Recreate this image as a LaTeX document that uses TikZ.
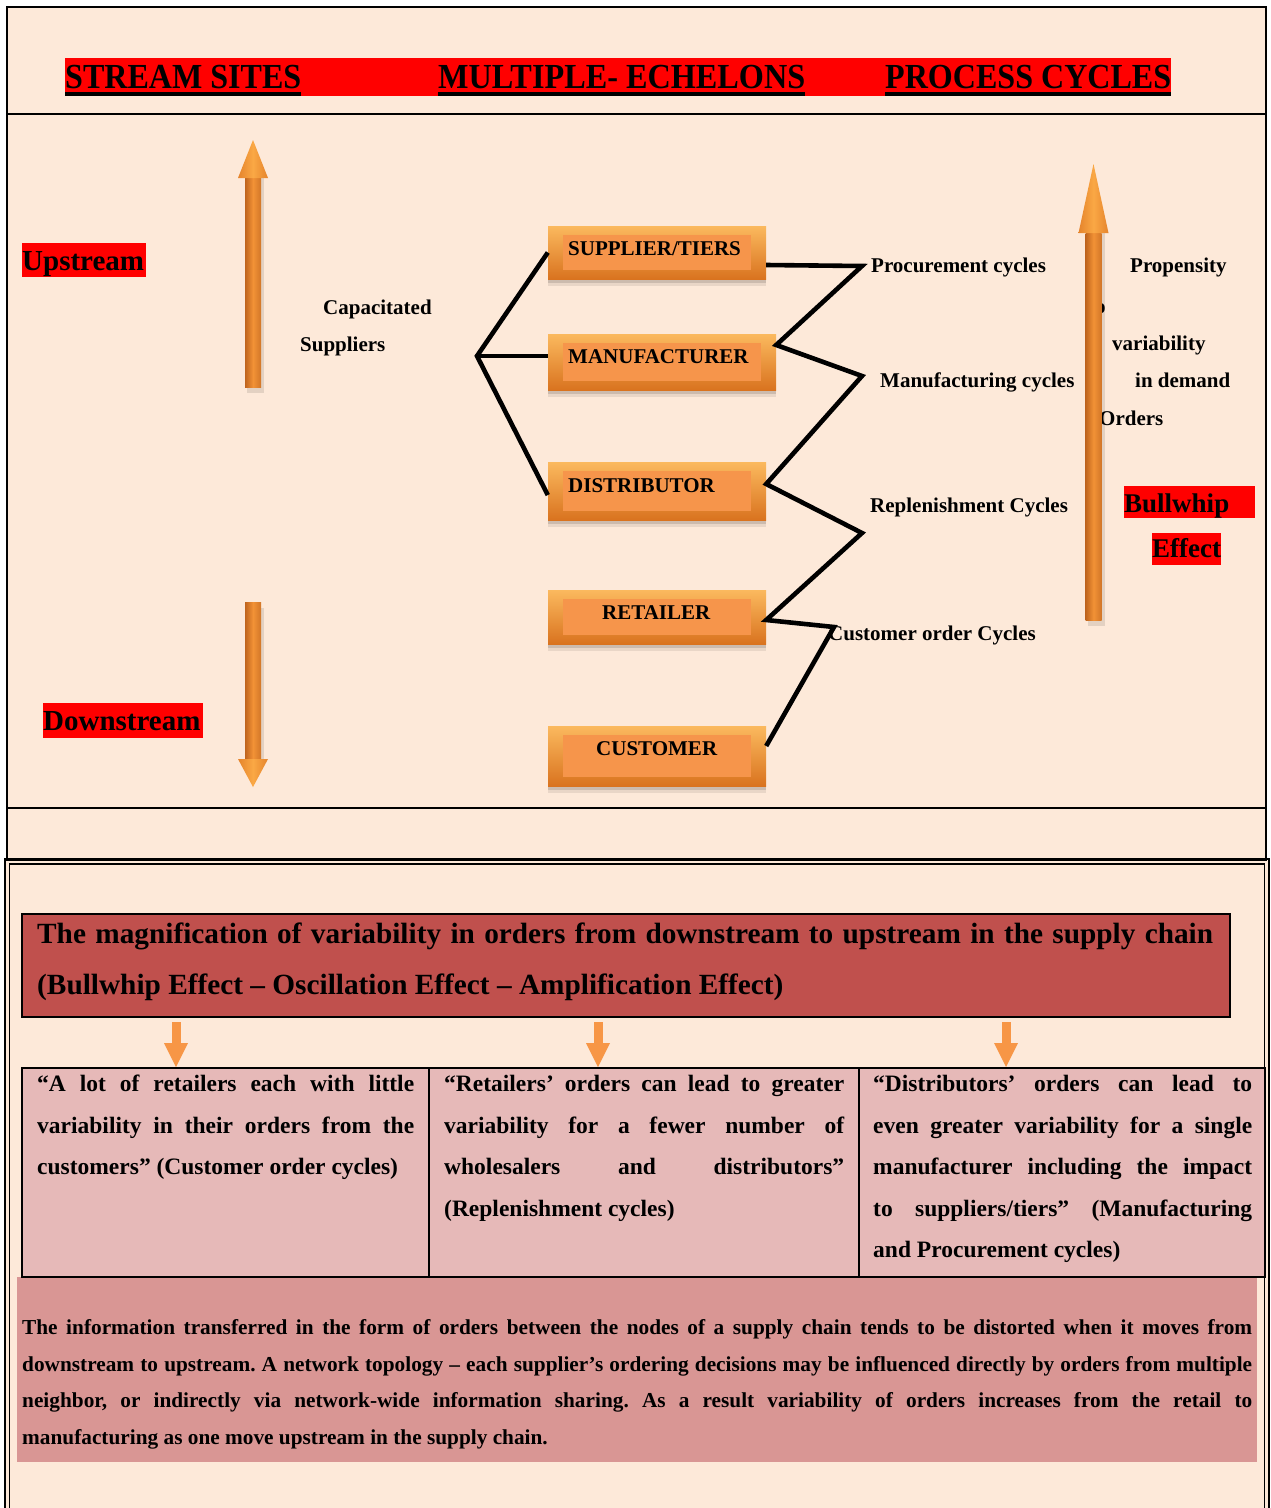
\documentclass[tikz,border=0pt]{standalone}
\usepackage{fontspec}
\setmainfont{Liberation Serif}
\usetikzlibrary{shadows}

\tolerance=10000
\hyphenpenalty=10000
\exhyphenpenalty=10000
\hbadness=10000
\frenchspacing

\definecolor{peach}{HTML}{FDE9D9}
\definecolor{hired}{HTML}{FF0000}
\definecolor{titlered}{HTML}{C0504D}
\definecolor{cellpink}{HTML}{E6B9B8}
\definecolor{parapink}{HTML}{D99694}
\definecolor{accentorange}{HTML}{F79646}
\definecolor{bevtop}{HTML}{FBB95E}
\definecolor{bevbot}{HTML}{D9731F}
\definecolor{bevface}{HTML}{F6954B}
\definecolor{shaftedge}{HTML}{BF641E}
\definecolor{shaftedgeb}{HTML}{D27628}
\definecolor{shaftmid}{HTML}{F29236}
\definecolor{headmid}{HTML}{FAA845}
\definecolor{headedge}{HTML}{E5842C}

\newcommand\setfs[2]{\fontsize{#1}{#2}\selectfont}

% vertical orange arrows: centre x, tip y, head base y, tail y
\newcommand\bigarrowshape[4]{%
  \fill[black, opacity=.10] (#1-6,#3) rectangle (#1+11,#4+6);
  \shade[left color=shaftedge, right color=shaftedgeb, middle color=shaftmid]
    (#1-8,#3) rectangle (#1+8,#4);
  \shade[left color=headedge, right color=headedge, middle color=headmid]
    (#1,#2) -- (#1+15,#3) -- (#1-15,#3) -- cycle;
}

\tikzset{
  frame/.style={draw=black, line width=2.4pt},
  echelon/.style={rectangle, inner sep=0pt, top color=bevtop, bottom color=bevbot,
    general shadow={fill=black, opacity=.08, shadow yshift=-7pt},
    general shadow={fill=black, opacity=.12, shadow yshift=-3.5pt},
    path picture={\fill[bevface]
      ([shift={(15pt,9pt)}]path picture bounding box.south west) rectangle
      ([shift={(-15pt,-9pt)}]path picture bounding box.north east);}},
  link/.style={draw=black, line width=4.6pt},
  lbl/.style={font=\setfs{21}{25}\bfseries, inner sep=0pt, anchor=base west},
  hdr/.style={font=\bfseries, inner sep=0pt, anchor=base west},
  hl/.style={font=\setfs{29}{34}\bfseries, inner sep=0pt, anchor=base west},
  bw/.style={font=\setfs{27}{32}\bfseries, inner sep=0pt, anchor=base west},
  titletext/.style={font=\setfs{29.3}{51}\bfseries, inner sep=0pt, anchor=base west, align=justify},
  celltext/.style={font=\setfs{23.5}{41.5}\bfseries, inner sep=0pt, anchor=base west, align=justify},
  paratext/.style={font=\setfs{21.3}{36.7}\bfseries, inner sep=0pt, anchor=base west, align=justify},
  cell/.style={fill=cellpink, draw=black, line width=1.8pt},
}

\begin{document}
\begin{tikzpicture}[x=1pt, y=-1pt]
\useasboundingbox (0,0) rectangle (1270,1508);
\fill[white] (0,0) rectangle (1270,1508);

% backgrounds of the two panels
\fill[peach] (7,7) rectangle (1266,860);
\fill[peach] (4.5,859) rectangle (1268.5,1508);

% ---------- heading band ----------
\fill[hired] (65,58) rectangle (1171,96);
\node[hdr] (hd1) at (65,88.3)  {\resizebox{236pt}{23.3pt}{STREAM SITES}};
\node[hdr] (hd2) at (438,88.3) {\resizebox{367pt}{23.3pt}{MULTIPLE- ECHELONS}};
\node[hdr] (hd3) at (885,88.3) {\resizebox{286pt}{23.3pt}{PROCESS CYCLES}};
\foreach \h in {hd1,hd2,hd3}
  \draw[line width=3.5pt] ([yshift=-5.7pt]\h.base west) -- ([yshift=-5.7pt]\h.base east);

% ---------- highlighted side labels ----------
\fill[hired] (22,243) rectangle (146,277);
\node[hl] (upstream) at (22,270) {Upstream};
\fill[hired] (43,703) rectangle (203,738);
\node[hl] (downstream) at (43,730.7) {Downstream};
\fill[hired] (1124,486) rectangle (1255,518);
\node[bw] (bullwhip) at (1124,512) {Bullwhip};
\fill[hired] (1152,533) rectangle (1221,565);
\node[bw] (effect) at (1152,557) {Effect};

% ---------- right column text (partly under the arrow) ----------
\node[lbl] (propensity) at (1130,272) {Propensity};
\node[lbl] (to) at (1088,313) {to};
\node[lbl] (variability) at (1112,350) {variability};
\node[lbl] (indemand) at (1135,387) {in demand};
\node[lbl] (orders) at (1099,425) {Orders};

% ---------- big arrows ----------
\bigarrowshape{253}{140}{178}{387}
\bigarrowshape{253}{787}{759}{602}
\bigarrowshape{1093.5}{164}{233}{620}

% ---------- capacitated suppliers ----------
\node[lbl] (capacitated) at (323,314) {Capacitated};
\node[lbl] (suppliers) at (300,351) {Suppliers};

% ---------- echelon boxes ----------
\node[echelon, minimum width=218pt, minimum height=53pt] (sup) at (657,252.5) {};
\node[echelon, minimum width=228pt, minimum height=56pt] (man) at (662,362) {};
\node[echelon, minimum width=218pt, minimum height=58pt] (dis) at (657,491) {};
\node[echelon, minimum width=218pt, minimum height=54pt] (ret) at (657,617) {};
\node[echelon, minimum width=218pt, minimum height=60pt] (cus) at (657,756) {};

\node[lbl] (suptext) at (568,255) {SUPPLIER/TIERS};
\node[lbl] (mantext) at (568,363) {MANUFACTURER};
\node[lbl] (distext) at (568,492) {DISTRIBUTOR};
\node[lbl] (rettext) at (602,619) {RETAILER};
\node[lbl] (custext) at (596,755) {CUSTOMER};

% ---------- cycle labels ----------
\node[lbl] (procurement) at (871,272) {Procurement cycles};
\node[lbl] (manufacturing) at (880,387) {Manufacturing cycles};
\node[lbl] (replenishment) at (870,512) {Replenishment Cycles};
\node[lbl] (customerorder) at (828,640) {Customer order Cycles};

% ---------- connectors ----------
\coordinate (fan) at (477,356);
\coordinate (p1) at (862,266);
\coordinate (p2) at (862,376);
\coordinate (p3) at (862,533);
\coordinate (p4) at (834,627);

\draw[link] (sup.west) -- (fan) -- ([yshift=-4pt]dis.west);
\draw[link] (fan) -- ([yshift=6pt]man.west);
\draw[link] ([yshift=-12.5pt]sup.east) -- (p1) -- ([yshift=17pt]man.east)
  -- (p2) -- ([yshift=7pt]dis.east) -- (p3) -- ([yshift=-3pt]ret.east)
  -- (p4) -- ([yshift=10pt]cus.east);

% ---------- lower panel ----------
\fill[titlered, draw=black, line width=2.5pt] (22,914) rectangle (1230,1017);
\node[titletext, text width=1176pt] (title) at (37,943)
  {The magnification of variability in orders from downstream to upstream in the supply chain\linebreak
   (Bullwhip Effect – Oscillation Effect – Amplification Effect)};

\foreach \ax in {176,598,1006} {
  \fill[accentorange] (\ax-4.5,1022) rectangle (\ax+4.5,1044);
  \fill[accentorange] (\ax,1067) -- (\ax+12,1043) -- (\ax-12,1043) -- cycle;
}

\fill[parapink] (17,1277) rectangle (1257,1462);

\filldraw[cell] (22,1068) rectangle (429,1277);
\filldraw[cell] (429,1068) rectangle (859,1277);
\filldraw[cell] (859,1068) rectangle (1265,1277);

\node[celltext, text width=377pt] (cellone) at (37,1091.5)
  {“A lot of retailers each with little\linebreak
   variability in their orders from the\linebreak
   customers” (Customer order cycles)};
\node[celltext, text width=400pt] (celltwo) at (444,1091.5)
  {“Retailers’ orders can lead to greater\linebreak
   variability for a fewer number of\linebreak
   wholesalers and distributors”\linebreak
   (Replenishment cycles)};
\node[celltext, text width=379pt] (cellthree) at (873,1091.5)
  {“Distributors’ orders can lead to\linebreak
   even greater variability for a single\linebreak
   manufacturer including the impact\linebreak
   to suppliers/tiers” (Manufacturing\linebreak
   and Procurement cycles)};

\node[paratext, text width=1230pt] (summary) at (22,1334.5)
  {The information transferred in the form of orders between the nodes of a supply chain tends to be distorted when it moves from\linebreak
   downstream to upstream. A network topology – each supplier’s ordering decisions may be influenced directly by orders from multiple\linebreak
   neighbor, or indirectly via network-wide information sharing. As a result variability of orders increases from the retail to\linebreak
   manufacturing as one move upstream in the supply chain.};

% ---------- frame lines ----------
\draw[frame] (7,7) rectangle (1266,860);
\draw[frame] (7,114) -- (1266,114);
\draw[frame] (7,808) -- (1266,808);
\draw[draw=black, line width=2pt] (4.5,1508) -- (4.5,859) -- (1268.5,859) -- (1268.5,1508);
\draw[draw=black, line width=1.5pt] (9.5,1508) -- (9.5,864) -- (1264.5,864) -- (1264.5,1508);
\end{tikzpicture}
\end{document}
